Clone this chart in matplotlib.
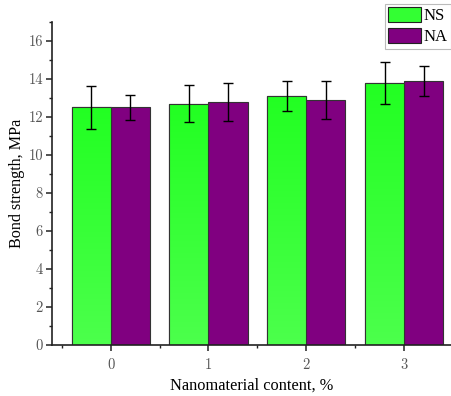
import numpy as np
import matplotlib.pyplot as plt
from matplotlib.ticker import MultipleLocator
from matplotlib.colors import LinearSegmentedColormap

# data
content = [0, 1, 2, 3]
ns_mean = [12.5, 12.7, 13.1, 13.8]
ns_err = [1.15, 0.98, 0.8, 1.1]
na_mean = [12.5, 12.8, 12.9, 13.9]
na_err = [0.68, 1.0, 1.0, 0.8]

serif = ['Liberation Serif', 'DejaVu Serif']

fig = plt.figure(figsize=(4.51, 3.96), dpi=100)
ax = fig.add_axes([0.1153, 0.1288, 0.8847, 0.8157])

x = np.array(content)
w = 0.4
ns_bars = ax.bar(x - w / 2, ns_mean, w, color='#33ff33', edgecolor='#333333', linewidth=0.8,
                 label='NS', zorder=2)
ax.bar(x + w / 2, na_mean, w, color='#800080', edgecolor='#333333', linewidth=0.8,
       label='NA', zorder=2)

# light green gradient inside NS bars (brighter towards the bottom)
grad_cmap = LinearSegmentedColormap.from_list('g', ['#4cff4c', '#22ff22'])
grad = np.linspace(0, 1, 256).reshape(-1, 1)
for b in ns_bars:
    x0, y0 = b.get_x(), b.get_y()
    im = ax.imshow(grad, cmap=grad_cmap, origin='lower', aspect='auto',
                   extent=[x0, x0 + b.get_width(), y0, y0 + b.get_height()], zorder=2.1)
    im.set_clip_path(b)
    ax.add_patch(plt.Rectangle((x0, y0), b.get_width(), b.get_height(), fill=False,
                               edgecolor='#333333', linewidth=0.8, zorder=2.2))

ax.errorbar(x - w / 2, ns_mean, yerr=ns_err, fmt='none', ecolor='black', elinewidth=1,
            capsize=3.3, capthick=1, zorder=3)
ax.errorbar(x + w / 2, na_mean, yerr=na_err, fmt='none', ecolor='black', elinewidth=1,
            capsize=3.3, capthick=1, zorder=3)

ax.set_xlim(-0.6, 3.48)
ax.set_ylim(0, 17)
ax.set_xticks(x)
ax.set_xticklabels([str(c) for c in content])
ax.set_xticks(x - 0.5, minor=True)
ax.yaxis.set_major_locator(MultipleLocator(2))
ax.yaxis.set_minor_locator(MultipleLocator(1))

for s in ['top', 'right']:
    ax.spines[s].set_visible(False)
for s in ['left', 'bottom']:
    ax.spines[s].set_linewidth(1.2)
    ax.spines[s].set_color('#222222')

ax.tick_params(which='major', direction='out', length=4.5, width=1.1, color='#222222',
               labelsize=10.5, labelcolor='#555555', pad=2)
ax.tick_params(axis='x', which='major', pad=5)
ax.tick_params(which='minor', direction='out', length=2.5, width=1, color='#222222')
for lab in ax.get_xticklabels() + ax.get_yticklabels():
    lab.set_family('cmr10')

ax.set_xlabel('Nanomaterial content, %', family=serif, fontsize=11.8)
ax.set_ylabel('Bond strength, MPa', family=serif, fontsize=11.6)
ax.xaxis.set_label_coords(0.5, -0.102)
ax.yaxis.set_label_coords(-0.068, 0.5)

leg = ax.legend(loc='upper right', bbox_to_anchor=(1.0, 1.056), prop={'family': serif, 'size': 12},
                frameon=True, fancybox=False, edgecolor='#bbbbbb', framealpha=1,
                handlelength=2.0, handleheight=0.95, handletextpad=0.15, borderpad=0.2,
                labelspacing=0.25, borderaxespad=0)
leg.get_frame().set_linewidth(0.8)
for h in leg.legend_handles:
    h.set_edgecolor('#222222')

fig.savefig('out.png', dpi=100)
